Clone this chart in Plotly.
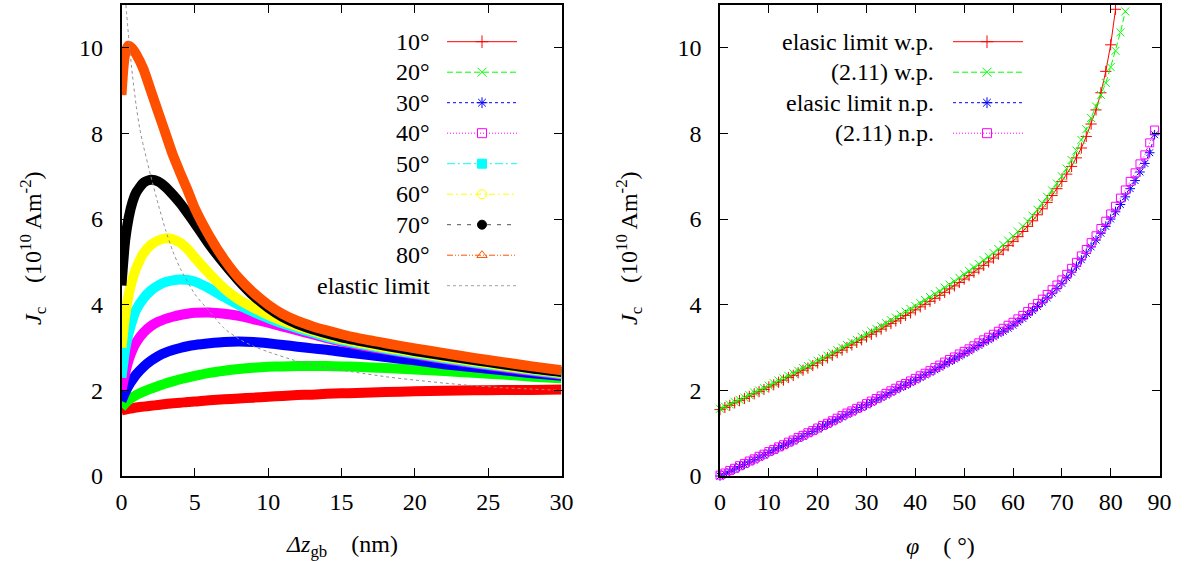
import plotly.graph_objects as go

# ---------------- left panel: J_c versus grain-boundary offset ----------------
dz = [0, 0.25, 0.5, 0.75, 1, 1.5, 2, 2.5, 3, 3.5, 4, 4.5, 5, 6, 7, 8, 9, 10,
      11, 12, 13, 14, 15, 16, 18, 20, 22, 24, 26, 28, 30]

jc_10 = [1.53, 1.55, 1.57, 1.58, 1.60, 1.62, 1.64, 1.66, 1.68, 1.70, 1.71, 1.73, 1.74,
         1.77, 1.79, 1.81, 1.83, 1.85, 1.87, 1.89, 1.90, 1.92, 1.93, 1.94, 1.96, 1.98,
         1.99, 2.00, 2.01, 2.01, 2.02]
jc_20 = [1.60, 1.70, 1.78, 1.84, 1.89, 1.97, 2.04, 2.10, 2.16, 2.21, 2.26, 2.30, 2.34,
         2.41, 2.46, 2.50, 2.53, 2.55, 2.56, 2.57, 2.57, 2.57, 2.56, 2.55, 2.52, 2.49,
         2.45, 2.41, 2.37, 2.32, 2.28]
jc_30 = [1.75, 1.95, 2.12, 2.25, 2.37, 2.55, 2.69, 2.80, 2.88, 2.94, 2.99, 3.03, 3.06,
         3.10, 3.13, 3.14, 3.13, 3.10, 3.06, 3.02, 2.98, 2.95, 2.90, 2.86, 2.78, 2.70,
         2.61, 2.54, 2.47, 2.40, 2.34]
jc_40 = [2.00, 2.40, 2.72, 2.95, 3.12, 3.35, 3.50, 3.60, 3.67, 3.72, 3.76, 3.79, 3.81,
         3.82, 3.79, 3.74, 3.66, 3.58, 3.49, 3.40, 3.31, 3.22, 3.14, 3.07, 2.95, 2.84,
         2.73, 2.63, 2.54, 2.45, 2.37]
jc_50 = [2.30, 2.95, 3.35, 3.65, 3.88, 4.15, 4.33, 4.45, 4.53, 4.57, 4.59, 4.58, 4.54,
         4.38, 4.18, 3.99, 3.83, 3.69, 3.56, 3.45, 3.35, 3.25, 3.17, 3.10, 2.97, 2.86,
         2.75, 2.65, 2.56, 2.47, 2.39]
jc_60 = [3.00, 3.75, 4.25, 4.60, 4.85, 5.20, 5.40, 5.50, 5.55, 5.53, 5.45, 5.30, 5.10,
         4.72, 4.38, 4.12, 3.93, 3.76, 3.62, 3.50, 3.39, 3.29, 3.20, 3.13, 3.00, 2.89,
         2.78, 2.68, 2.58, 2.49, 2.41]
jc_70 = [4.45, 5.50, 6.05, 6.40, 6.62, 6.85, 6.92, 6.88, 6.75, 6.57, 6.37, 6.14, 5.90,
         5.40, 4.96, 4.56, 4.21, 3.93, 3.71, 3.55, 3.43, 3.33, 3.24, 3.17, 3.04, 2.92,
         2.81, 2.71, 2.61, 2.51, 2.43]

dz_80 = [0, 0.05, 0.1, 0.15, 0.2, 0.3, 0.45, 0.7, 1, 1.5, 2, 2.5, 3, 3.5, 4, 4.5, 5,
         6, 7, 8, 9, 10, 11, 12, 13, 14, 15, 16, 18, 20, 22, 24, 26, 28, 30]
jc_80 = [8.90, 9.15, 9.40, 9.60, 9.75, 9.93, 10.05, 10.00, 9.85, 9.50, 9.00, 8.50, 8.00,
         7.50, 7.08, 6.68, 6.25, 5.60, 5.06, 4.62, 4.28, 4.00, 3.78, 3.62, 3.50, 3.40,
         3.31, 3.23, 3.10, 2.98, 2.87, 2.76, 2.66, 2.56, 2.47]

dz_el = [0.3, 0.5, 0.75, 1, 1.25, 1.5, 2, 2.5, 3, 3.5, 4, 5, 6, 7, 8, 9, 10, 12, 14,
         16, 18, 20, 22, 24, 26, 28, 30]
jc_el = [11.0, 10.2, 9.35, 8.65, 8.10, 7.70, 7.00, 6.35, 5.75, 5.25, 4.85, 4.25, 3.84,
         3.45, 3.20, 3.03, 2.90, 2.68, 2.53, 2.42, 2.32, 2.24, 2.17, 2.11, 2.06, 2.03, 2.00]

# ---------------- right panel: J_c versus misorientation angle ----------------
phi_red = list(range(0, 82))
jc_el_wp = [1.55, 1.60, 1.65, 1.71, 1.76, 1.81, 1.86, 1.92, 1.97, 2.02,
            2.08, 2.13, 2.19, 2.24, 2.30, 2.35, 2.41, 2.47, 2.52, 2.58,
            2.64, 2.70, 2.76, 2.82, 2.88, 2.94, 3.00, 3.06, 3.12, 3.18,
            3.25, 3.31, 3.37, 3.43, 3.50, 3.56, 3.62, 3.68, 3.75, 3.81,
            3.88, 3.95, 4.01, 4.08, 4.15, 4.22, 4.29, 4.37, 4.44, 4.52,
            4.60, 4.68, 4.76, 4.84, 4.92, 5.00, 5.09, 5.18, 5.28, 5.38,
            5.48, 5.59, 5.71, 5.83, 5.96, 6.10, 6.24, 6.39, 6.55, 6.71,
            6.88, 7.05, 7.23, 7.43, 7.66, 7.93, 8.22, 8.55, 8.95, 9.45,
            10.07, 10.90]

phi_green = list(range(0, 84))
jc_211_wp = [1.57, 1.62, 1.67, 1.73, 1.78, 1.83, 1.89, 1.95, 2.00, 2.05,
             2.11, 2.17, 2.23, 2.28, 2.34, 2.40, 2.46, 2.52, 2.57, 2.63,
             2.69, 2.75, 2.81, 2.87, 2.94, 3.00, 3.06, 3.12, 3.18, 3.25,
             3.31, 3.38, 3.44, 3.50, 3.57, 3.64, 3.70, 3.77, 3.84, 3.90,
             3.97, 4.04, 4.11, 4.18, 4.25, 4.32, 4.40, 4.47, 4.55, 4.63,
             4.71, 4.79, 4.87, 4.95, 5.04, 5.12, 5.21, 5.30, 5.40, 5.50,
             5.60, 5.71, 5.83, 5.95, 6.08, 6.22, 6.37, 6.52, 6.67, 6.83,
             7.00, 7.18, 7.38, 7.60, 7.85, 8.10, 8.36, 8.63, 8.90, 9.18,
             9.55, 9.93, 10.36, 10.85]

phi_np = list(range(0, 90))
jc_el_np = [0.00, 0.05, 0.11, 0.16, 0.22, 0.27, 0.33, 0.38, 0.44, 0.49,
            0.55, 0.60, 0.66, 0.71, 0.77, 0.82, 0.88, 0.93, 0.99, 1.04,
            1.10, 1.16, 1.21, 1.27, 1.32, 1.38, 1.44, 1.49, 1.55, 1.60,
            1.66, 1.72, 1.78, 1.83, 1.89, 1.95, 2.01, 2.07, 2.12, 2.18,
            2.24, 2.30, 2.36, 2.42, 2.48, 2.54, 2.61, 2.67, 2.73, 2.80,
            2.86, 2.92, 2.99, 3.05, 3.12, 3.18, 3.25, 3.32, 3.38, 3.45,
            3.52, 3.60, 3.68, 3.77, 3.86, 3.96, 4.06, 4.16, 4.27, 4.38,
            4.50, 4.63, 4.76, 4.90, 5.05, 5.20, 5.35, 5.51, 5.67, 5.83,
            6.00, 6.17, 6.34, 6.52, 6.71, 6.90, 7.10, 7.30, 7.55, 7.97]
jc_211_np = [0.02, 0.07, 0.13, 0.18, 0.24, 0.29, 0.35, 0.40, 0.46, 0.51,
             0.57, 0.62, 0.68, 0.73, 0.79, 0.84, 0.90, 0.95, 1.01, 1.06,
             1.12, 1.18, 1.23, 1.29, 1.35, 1.41, 1.47, 1.52, 1.58, 1.63,
             1.69, 1.75, 1.81, 1.87, 1.93, 1.99, 2.05, 2.11, 2.16, 2.22,
             2.28, 2.34, 2.40, 2.46, 2.53, 2.59, 2.66, 2.72, 2.78, 2.85,
             2.91, 2.97, 3.04, 3.11, 3.18, 3.24, 3.31, 3.38, 3.45, 3.52,
             3.59, 3.67, 3.75, 3.84, 3.93, 4.03, 4.13, 4.24, 4.35, 4.46,
             4.58, 4.71, 4.85, 4.99, 5.14, 5.29, 5.45, 5.61, 5.78, 5.95,
             6.12, 6.30, 6.49, 6.68, 6.88, 7.08, 7.29, 7.50, 7.78, 8.08]

# ---------------- styling ----------------
FONT = "Liberation Serif, Times New Roman, serif"
W, H = 1184, 561

left_series = [
    ("10°", dz, jc_10, "#ff0000", "solid", "cross-thin-open"),
    ("20°", dz, jc_20, "#00ff00", "6px,3px", "x-thin-open"),
    ("30°", dz, jc_30, "#0000ff", "3px,3px", "asterisk-open"),
    ("40°", dz, jc_40, "#ff00ff", "1px,2px", "square-open"),
    ("50°", dz, jc_50, "#00ffff", "8px,3px,2px,3px", "square"),
    ("60°", dz, jc_60, "#ffff00", "6px,3px,2px,3px", "circle-open"),
    ("70°", dz, jc_70, "#000000", "4px,6px", "circle"),
    ("80°", dz_80, jc_80, "#ff5000", "6px,2px,1px,2px,1px,2px", "triangle-up-open"),
]
legend_line_color = {"70°": "#555555"}

right_series = [
    ("elasic limit w.p.", phi_red, jc_el_wp, "#ff0000", "solid", "cross-thin-open"),
    ("(2.11) w.p.", phi_green, jc_211_wp, "#00ff00", "6px,3px", "x-thin-open"),
    ("elasic limit n.p.", phi_np, jc_el_np, "#0000ff", "3px,3px", "asterisk-open"),
    ("(2.11) n.p.", phi_np, jc_211_np, "#ff00ff", "1px,2px", "square-open"),
]

fig = go.Figure()

# thick bands for the offset curves (dense point sets in the original plot)
for name, xs, ys, color, dash, sym in left_series:
    fig.add_trace(go.Scatter(
        x=xs, y=ys, mode="lines", xaxis="x", yaxis="y",
        line=dict(color=color, width=10, shape="spline", smoothing=0.6),
        showlegend=False, hoverinfo="skip"))
fig.add_trace(go.Scatter(
    x=dz_el, y=jc_el, mode="lines", xaxis="x", yaxis="y",
    line=dict(color="#909090", width=1, dash="3px,3px", shape="spline", smoothing=0.6),
    showlegend=False, hoverinfo="skip"))

# marker curves of the angle panel
for name, xs, ys, color, dash, sym in right_series:
    fig.add_trace(go.Scatter(
        x=xs, y=ys, mode="lines+markers", xaxis="x2", yaxis="y2",
        line=dict(color=color, width=1, dash=dash),
        marker=dict(symbol=sym, size=8, color=color, line=dict(color=color, width=1)),
        cliponaxis=False, showlegend=False, hoverinfo="skip"))

# ---------------- hand-built keys (text to the left of the sample) ----------------
annotations = []


def add_key(rows, text_right, x0, x1, xm, y_first, step):
    for i, (name, color, dash, sym, lcol) in enumerate(rows):
        yy = y_first + i * step
        fig.add_trace(go.Scatter(
            x=[x0, x1], y=[yy, yy], mode="lines", xaxis="x3", yaxis="y3",
            line=dict(color=lcol, width=1, dash=dash),
            showlegend=False, hoverinfo="skip"))
        if sym:
            fig.add_trace(go.Scatter(
                x=[xm], y=[yy], mode="markers", xaxis="x3", yaxis="y3",
                marker=dict(symbol=sym, size=9, color=color,
                            line=dict(color=color, width=1)),
                showlegend=False, hoverinfo="skip"))
        annotations.append(dict(
            text=name, xref="paper", yref="paper", x=text_right / W,
            y=1 - yy / H, xanchor="right", yanchor="middle", showarrow=False,
            font=dict(family=FONT, size=24, color="black")))


left_rows = [(n, c, d, s, legend_line_color.get(n, c)) for n, _, _, c, d, s in left_series]
left_rows.append(("elastic limit", "#909090", "3px,3px", None, "#a0a0a0"))
add_key(left_rows, 432, 447, 517, 482, 41.7, 30.5)

right_rows = [(n, c, d, s, c) for n, _, _, c, d, s in right_series]
add_key(right_rows, 936, 953, 1023, 987, 41.7, 30.5)

# ---------------- axis titles ----------------
ytitle = "<i>J</i><sub>c</sub>\u00a0\u00a0\u00a0\u00a0(10<sup>10</sup> Am<sup>-2</sup>)"
for xc in (33, 629):
    annotations.append(dict(
        text=ytitle, xref="paper", yref="paper", x=xc / W, y=1 - 248 / H,
        xanchor="center", yanchor="middle", textangle=-90, showarrow=False,
        font=dict(family=FONT, size=24, color="black")))
annotations.append(dict(
    text="<i>Δz</i><sub>gb</sub>\u00a0\u00a0\u00a0\u00a0(nm)", xref="paper", yref="paper",
    x=341.5 / W, y=1 - 546 / H, xanchor="center", yanchor="middle", showarrow=False,
    font=dict(family=FONT, size=24, color="black")))
annotations.append(dict(
    text="<i>φ</i>\u00a0\u00a0\u00a0\u00a0(\u00a0°)", xref="paper", yref="paper",
    x=940 / W, y=1 - 546 / H, xanchor="center", yanchor="middle", showarrow=False,
    font=dict(family=FONT, size=24, color="black")))

frame = dict(showline=True, linecolor="black", linewidth=1.5, mirror="allticks",
             ticks="inside", ticklen=8, tickwidth=1, tickcolor="black",
             showgrid=False, zeroline=False, automargin=False,
             tickfont=dict(family=FONT, size=24, color="black"))

y_dom = [85 / H, 556 / H]
fig.update_layout(
    width=W, height=H, margin=dict(l=0, r=0, t=0, b=0, autoexpand=False),
    font=dict(family=FONT, size=24, color="black"),
    paper_bgcolor="white", plot_bgcolor="rgba(0,0,0,0)", showlegend=False,
    xaxis=dict(domain=[121.5 / W, 561.5 / W], range=[0, 30], anchor="y",
               tickvals=[0, 5, 10, 15, 20, 25, 30], ticklabelstandoff=3, **frame),
    yaxis=dict(domain=y_dom, range=[0, 11], anchor="x",
               tickvals=[0, 2, 4, 6, 8, 10], ticklabelstandoff=12, **frame),
    xaxis2=dict(domain=[720 / W, 1159.5 / W], range=[0, 90], anchor="y2",
                tickvals=list(range(0, 91, 10)), ticklabelstandoff=3, **frame),
    yaxis2=dict(domain=y_dom, range=[0, 11], anchor="x2",
                tickvals=[0, 2, 4, 6, 8, 10], ticklabelstandoff=12, **frame),
    xaxis3=dict(domain=[0, 1], range=[0, W], anchor="y3", visible=False,
                fixedrange=True, automargin=False),
    yaxis3=dict(domain=[0, 1], range=[H, 0], anchor="x3", visible=False,
                fixedrange=True, automargin=False),
    annotations=annotations,
)

fig.write_html("out.html")
